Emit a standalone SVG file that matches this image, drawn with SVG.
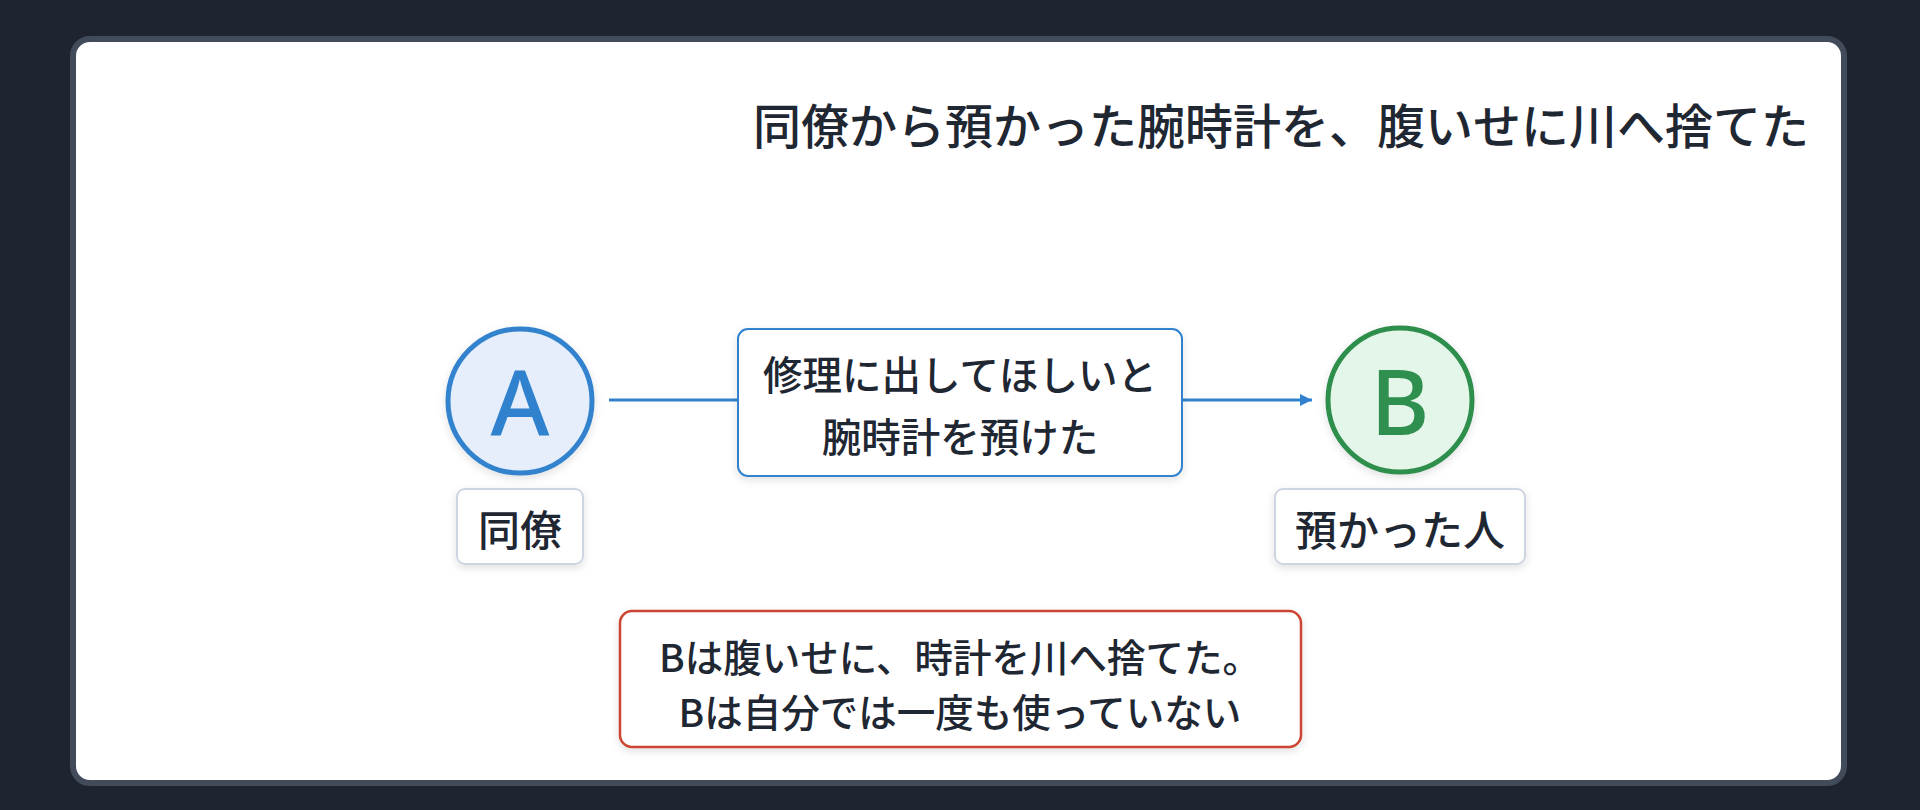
<svg xmlns="http://www.w3.org/2000/svg" width="1920" height="810" viewBox="0 0 1920 810">
<defs>
<style>
.jp{font-family:"Noto Sans CJK JP","Noto Sans",sans-serif;fill:#1f2733;}
.t{font-size:48px;font-weight:500;}
.m{font-size:39.5px;font-weight:500;}
.n{font-size:38.5px;font-weight:500;}
.l{font-size:42px;font-weight:500;}
.big{font-family:"Noto Sans","Liberation Sans",sans-serif;font-size:90px;font-weight:500;}
.lbl{fill:#ffffff;stroke:#cdd5e0;stroke-width:2;}
.conn{stroke:#3182ce;stroke-width:3;fill:none;}
</style>
<filter id="sh" x="-20%" y="-20%" width="140%" height="150%">
<feDropShadow dx="0" dy="3" stdDeviation="4" flood-color="#000" flood-opacity="0.12"/>
</filter>
<marker id="arr" viewBox="0 0 10 10" refX="10" refY="5" markerWidth="4" markerHeight="4" orient="auto" markerUnits="strokeWidth">
<path d="M0,0 L10,5 L0,10 z" fill="#3182ce"/>
</marker>
</defs>
<rect x="0" y="0" width="1920" height="810" fill="#1e2530"/>
<rect id="card" x="73" y="39" width="1771" height="744" rx="17" fill="#ffffff" stroke="#414b5a" stroke-width="6"/>
<text id="title" class="jp t" x="1809" y="123" text-anchor="end" dominant-baseline="central">同僚から預かった腕時計を、腹いせに川へ捨てた</text>
<g id="connectors">
<line class="conn" x1="609" y1="400" x2="738" y2="400"/>
<line class="conn" x1="1182" y1="400" x2="1312" y2="400" marker-end="url(#arr)"/>
</g>
<g id="nodeA">
<circle cx="520" cy="401" r="72" fill="#e5eefa" stroke="#3182ce" stroke-width="5" filter="url(#sh)"/>
<text class="big" x="520" y="401" text-anchor="middle" dominant-baseline="central" fill="#3182ce">A</text>
</g>
<g id="labelA">
<rect class="lbl" x="457" y="489" width="126" height="75" rx="8" filter="url(#sh)"/>
<text class="jp l" x="520" y="527" text-anchor="middle" dominant-baseline="central">同僚</text>
</g>
<g id="edgeLabel">
<rect x="738" y="329" width="444" height="147" rx="10" fill="#ffffff" stroke="#3182ce" stroke-width="2" filter="url(#sh)"/>
<text class="jp m" x="960" y="372" text-anchor="middle" dominant-baseline="central">修理に出してほしいと</text>
<text class="jp m" x="960" y="434" text-anchor="middle" dominant-baseline="central">腕時計を預けた</text>
</g>
<g id="nodeB">
<circle cx="1400" cy="400" r="72" fill="#e4f5e9" stroke="#2f8f4e" stroke-width="5" filter="url(#sh)"/>
<text class="big" x="1400" y="400" text-anchor="middle" dominant-baseline="central" fill="#2f8f4e">B</text>
</g>
<g id="labelB">
<rect class="lbl" x="1275" y="489" width="250" height="75" rx="8" filter="url(#sh)"/>
<text class="jp l" x="1400" y="527" text-anchor="middle" dominant-baseline="central">預かった人</text>
</g>
<g id="note">
<rect x="620" y="611" width="681" height="136" rx="12" fill="#ffffff" stroke="#cc4430" stroke-width="2.5" filter="url(#sh)"/>
<text class="jp n" x="960" y="655" text-anchor="middle" dominant-baseline="central">Bは腹いせに、時計を川へ捨てた。</text>
<text class="jp n" x="960" y="710" text-anchor="middle" dominant-baseline="central">Bは自分では一度も使っていない</text>
</g>
</svg>
